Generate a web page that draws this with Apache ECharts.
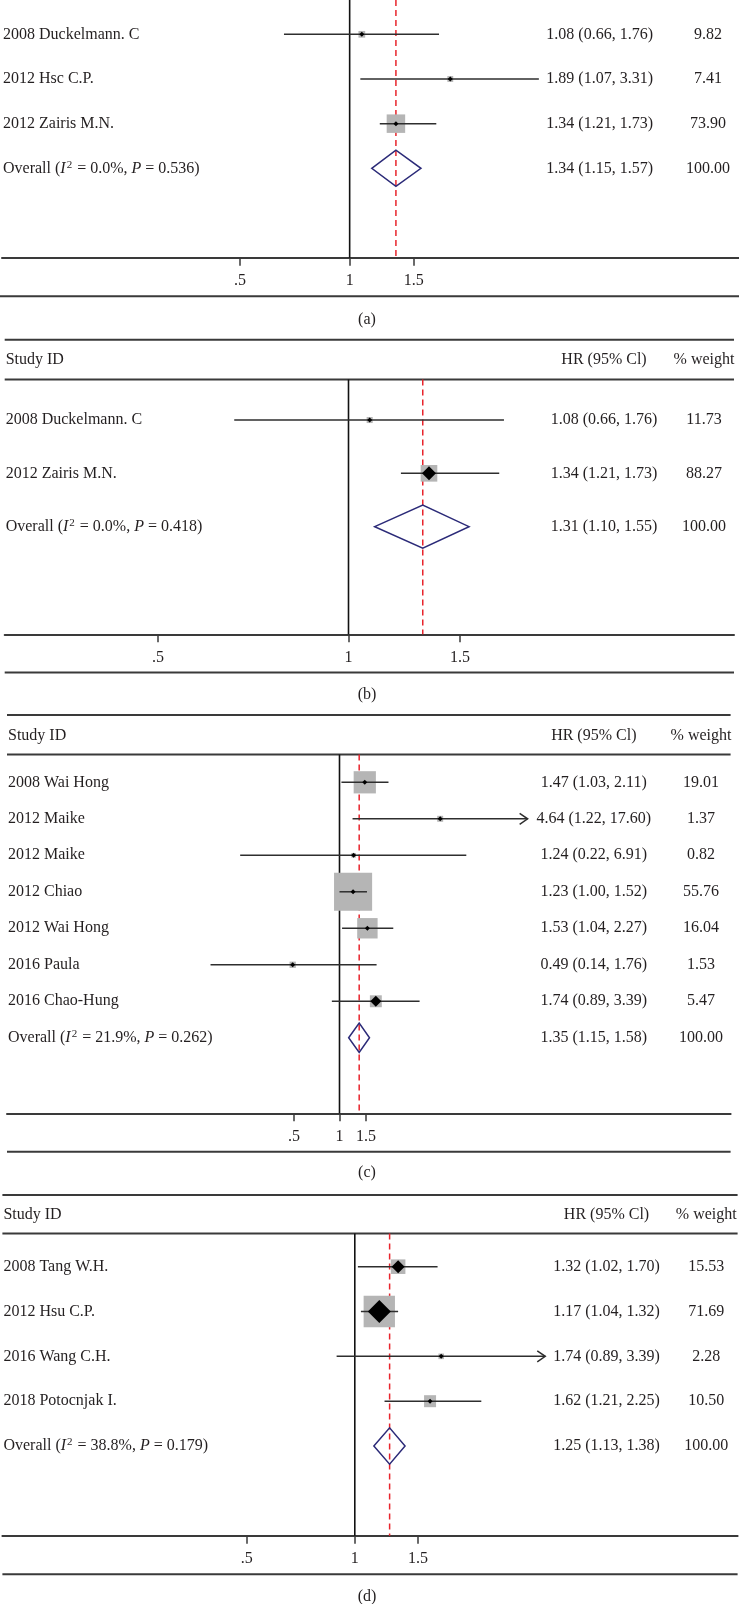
<!DOCTYPE html>
<html>
<head>
<meta charset="utf-8">
<script src="https://cdn.jsdelivr.net/npm/echarts@6/dist/echarts.min.js"></script>
<style>
html,body{margin:0;padding:0;background:#fff;}
#chart{width:739px;height:1604px;}
</style>
</head>
<body>
<div id="chart"></div>
<script>
// ---------------- DATA ----------------
// Panel (a)
const studiesA = ['2008 Duckelmann. C', '2012 Hsc C.P.', '2012 Zairis M.N.'];
const hrA = [1.08, 1.89, 1.34];
const lowA = [0.66, 1.07, 1.21];
const highA = [1.76, 3.31, 1.73];
const weightA = [9.82, 7.41, 73.90];
const overallA = [1.34, 1.15, 1.57];
const hetA = ['0.0%', '0.536'];

// Panel (b)
const studiesB = ['2008 Duckelmann. C', '2012 Zairis M.N.'];
const hrB = [1.08, 1.34];
const lowB = [0.66, 1.21];
const highB = [1.76, 1.73];
const weightB = [11.73, 88.27];
const overallB = [1.31, 1.10, 1.55];
const hetB = ['0.0%', '0.418'];

// Panel (c)
const studiesC = ['2008 Wai Hong', '2012 Maike', '2012 Maike', '2012 Chiao', '2012 Wai Hong', '2016 Paula', '2016 Chao-Hung'];
const hrC = [1.47, 4.64, 1.24, 1.23, 1.53, 0.49, 1.74];
const lowC = [1.03, 1.22, 0.22, 1.00, 1.04, 0.14, 0.89];
const highC = [2.11, 17.60, 6.91, 1.52, 2.27, 1.76, 3.39];
const weightC = [19.01, 1.37, 0.82, 55.76, 16.04, 1.53, 5.47];
const overallC = [1.35, 1.15, 1.58];
const hetC = ['21.9%', '0.262'];

// Panel (d)
const studiesD = ['2008 Tang W.H.', '2012 Hsu C.P.', '2016 Wang C.H.', '2018 Potocnjak I.'];
const hrD = [1.32, 1.17, 1.74, 1.62];
const lowD = [1.02, 1.04, 0.89, 1.21];
const highD = [1.70, 1.32, 3.39, 2.25];
const weightD = [15.53, 71.69, 2.28, 10.50];
const overallD = [1.25, 1.13, 1.38];
const hetD = ['38.8%', '0.179'];

const tickValues = [0.5, 1, 1.5];
const tickLabels = ['.5', '1', '1.5'];
const captions = ['(a)', '(b)', '(c)', '(d)'];
const headerTexts = ['Study ID', 'HR (95% Cl)', '% weight'];
const overallWeight = 100;

// ---------------- LAYOUT / STYLE ----------------
const FONT = '"Liberation Serif","Times New Roman",serif';
const TXT = '#231f20';
const RULE = '#3a3a3a';

const panels = [
  {names: studiesA, hr: hrA, lo: lowA, hi: highA, w: weightA, ov: overallA, het: hetA},
  {names: studiesB, hr: hrB, lo: lowB, hi: highB, w: weightB, ov: overallB, het: hetB},
  {names: studiesC, hr: hrC, lo: lowC, hi: highC, w: weightC, ov: overallC, het: hetC},
  {names: studiesD, hr: hrD, lo: lowD, hi: highD, w: weightD, ov: overallD, het: hetD}
];

const layouts = [
  {left:0, right:739, top:0, axisY:257.7, x1:348.6, s:158.5, yMin:-0.768, yMax:5.0, k:2.15, hrC:139.3, wC:31, topLine:null, headerY:null, bottomY:296.3, captionY:319.3, big:{}, arrows:[]},
  {left:4.7, right:734, top:379.4, axisY:634.3, x1:348.5, s:275, yMin:-0.762, yMax:4.02, k:1.77, hrC:130, wC:30, topLine:339.8, headerY:360, bottomY:672.5, captionY:695, big:{1:14}, arrows:[]},
  {left:7, right:730.6, top:754.5, axisY:1113.3, x1:339.5, s:65.6, yMin:-0.762, yMax:9.07, k:5.1, hrC:136.8, wC:29.6, topLine:715, headerY:736, bottomY:1151.7, captionY:1173, big:{6:11}, arrows:[1]},
  {left:2.4, right:737.6, top:1233.5, axisY:1535.7, x1:354.8, s:156, yMin:-0.74, yMax:6.0, k:3.7, hrC:131.1, wC:31.3, topLine:1195, headerY:1215, bottomY:1574.3, captionY:1596.5, big:{0:13, 1:23}, arrows:[2]}
];

function fmtHR(e, l, h) { return e.toFixed(2) + ' (' + l.toFixed(2) + ', ' + h.toFixed(2) + ')'; }

const grids = [], xAxes = [], yAxes = [], series = [], graphics = [];

panels.forEach((P, pi) => {
  const L = layouts[pi];
  const n = P.names.length;
  const rowVals = [];
  for (let i = 0; i <= n; i++) rowVals.push(i);

  grids.push({left: L.left, top: L.top, width: L.right - L.left, height: L.axisY - L.top, containLabel: false});

  xAxes.push({
    type: 'value', gridIndex: pi,
    min: (L.left - L.x1) / L.s, max: (L.right - L.x1) / L.s,
    axisLine: {show: true, onZero: false, lineStyle: {color: RULE, width: 2}},
    axisTick: {show: true, length: 8, customValues: tickValues.map(Math.log), lineStyle: {color: RULE, width: 1.5}},
    axisLabel: {
      show: true, margin: 15, customValues: tickValues.map(Math.log),
      fontFamily: FONT, fontSize: 16, color: TXT,
      formatter: (v) => {
        const r = Math.exp(v);
        let best = 0, bd = Infinity;
        tickValues.forEach((t, ti) => { const d = Math.abs(t - r); if (d < bd) { bd = d; best = ti; } });
        return tickLabels[best];
      }
    },
    splitLine: {show: false}
  });

  const overallRich = '{t|Overall (}{i|I}{s|2}{t| = ' + P.het[0] + ', }{i|P}{t| = ' + P.het[1] + ')}';
  yAxes.push({
    type: 'value', gridIndex: pi, position: 'left', inverse: true, min: L.yMin, max: L.yMax,
    axisLine: {show: false}, axisTick: {show: false}, splitLine: {show: false},
    axisLabel: {
      show: true, inside: true, margin: 1, customValues: rowVals,
      fontFamily: FONT, fontSize: 16, color: TXT,
      formatter: (v) => {
        const i = Math.round(v);
        if (i < n) return '{t|' + P.names[i] + '}';
        return overallRich;
      },
      rich: {
        t: {fontFamily: FONT, fontSize: 16, color: TXT, lineHeight: 18},
        i: {fontFamily: FONT, fontSize: 16, color: TXT, fontStyle: 'italic', lineHeight: 18},
        s: {fontFamily: FONT, fontSize: 11, color: TXT, lineHeight: 11, verticalAlign: 'top', padding: [0, 1, 0, 1]}
      }
    }
  });
  const hrW = 2 * (L.hrC - 2 * L.wC);
  yAxes.push({
    type: 'value', gridIndex: pi, position: 'right', inverse: true, min: L.yMin, max: L.yMax,
    axisLine: {show: false}, axisTick: {show: false}, splitLine: {show: false},
    axisLabel: {
      show: true, inside: true, margin: 0, customValues: rowVals,
      fontFamily: FONT, fontSize: 16, color: TXT,
      formatter: (v) => {
        const i = Math.round(v);
        let h, w;
        if (i < n) { h = fmtHR(P.hr[i], P.lo[i], P.hi[i]); w = P.w[i].toFixed(2); }
        else { h = fmtHR(P.ov[0], P.ov[1], P.ov[2]); w = overallWeight.toFixed(2); }
        return '{h|' + h + '}{w|' + w + '}';
      },
      rich: {
        h: {fontFamily: FONT, fontSize: 16, color: TXT, width: hrW, align: 'center'},
        w: {fontFamily: FONT, fontSize: 16, color: TXT, width: 2 * L.wC, align: 'center'}
      }
    }
  });

  // reference lines: null effect (HR = 1) and pooled estimate
  series.push({
    type: 'custom', xAxisIndex: pi, yAxisIndex: 2 * pi, silent: true, z: 1,
    data: [[Math.log(1), 0], [Math.log(P.ov[0]), 0]],
    encode: {x: 0, y: 1},
    renderItem: (params, api) => {
      const x = api.value(0);
      const a = api.coord([x, L.yMin]);
      const b = api.coord([x, L.yMax]);
      const isNull = params.dataIndex === 0;
      return {
        type: 'line',
        shape: {x1: a[0], y1: a[1], x2: b[0], y2: b[1]},
        style: isNull ? {stroke: '#111', lineWidth: 1.6} : {stroke: '#e8242c', lineWidth: 1.5, lineDash: [6, 4]}
      };
    }
  });

  const items = [];
  for (let i = 0; i < n; i++) items.push([Math.log(P.hr[i]), Math.log(P.lo[i]), Math.log(P.hi[i]), P.w[i], i]);
  items.push([Math.log(P.ov[0]), Math.log(P.ov[1]), Math.log(P.ov[2]), overallWeight, n]);

  series.push({
    type: 'custom', xAxisIndex: pi, yAxisIndex: 2 * pi, silent: true, z: 2,
    data: items,
    encode: {x: [0, 1, 2], y: 4},
    renderItem: (params, api) => {
      const e = api.value(0), lo = api.value(1), hi = api.value(2), w = api.value(3), row = api.value(4);
      if (params.dataIndex === n) {
        const hh = 0.405;
        const pts = [api.coord([lo, row]), api.coord([e, row - hh]), api.coord([hi, row]), api.coord([e, row + hh])];
        return {type: 'polygon', shape: {points: pts}, style: {fill: 'none', stroke: '#2b2a78', lineWidth: 1.5}};
      }
      const pe = api.coord([e, row]);
      const pl = api.coord([lo, row]);
      const ph = api.coord([hi, row]);
      const side = L.k * Math.sqrt(w);
      const m = L.big[params.dataIndex] || 5;
      const children = [
        {type: 'rect', shape: {x: pe[0] - side / 2, y: pe[1] - side / 2, width: side, height: side}, style: {fill: '#b5b5b5'}},
        {type: 'line', shape: {x1: pl[0], y1: pl[1], x2: ph[0], y2: ph[1]}, style: {stroke: '#2e2e2e', lineWidth: 1.5}},
        {type: 'polygon', shape: {points: [[pe[0], pe[1] - m / 2], [pe[0] + m / 2, pe[1]], [pe[0], pe[1] + m / 2], [pe[0] - m / 2, pe[1]]]}, style: {fill: '#000'}}
      ];
      if (L.arrows.indexOf(params.dataIndex) >= 0) {
        children.push({type: 'polyline', shape: {points: [[ph[0] - 8, ph[1] - 5.5], [ph[0], ph[1]], [ph[0] - 8, ph[1] + 5.5]]}, style: {stroke: '#2e2e2e', lineWidth: 1.5, fill: 'none'}});
      }
      return {type: 'group', children: children};
    }
  });

  // decorations
  const font16 = '16px ' + FONT;
  if (L.topLine !== null) {
    graphics.push({type: 'line', silent: true, shape: {x1: L.left, y1: L.topLine, x2: L.right, y2: L.topLine}, style: {stroke: RULE, lineWidth: 2}});
    graphics.push({type: 'line', silent: true, shape: {x1: L.left, y1: L.top, x2: L.right, y2: L.top}, style: {stroke: RULE, lineWidth: 2}});
    graphics.push({type: 'text', silent: true, x: L.left + 1, y: L.headerY, style: {text: headerTexts[0], font: font16, fill: TXT, textAlign: 'left', textVerticalAlign: 'middle'}});
    graphics.push({type: 'text', silent: true, x: L.right - L.hrC, y: L.headerY, style: {text: headerTexts[1], font: font16, fill: TXT, textAlign: 'center', textVerticalAlign: 'middle'}});
    graphics.push({type: 'text', silent: true, x: L.right - L.wC, y: L.headerY, style: {text: headerTexts[2], font: font16, fill: TXT, textAlign: 'center', textVerticalAlign: 'middle'}});
  }
  graphics.push({type: 'line', silent: true, shape: {x1: L.left, y1: L.bottomY, x2: L.right, y2: L.bottomY}, style: {stroke: RULE, lineWidth: 2}});
  graphics.push({type: 'text', silent: true, x: 367, y: L.captionY, style: {text: captions[pi], font: font16, fill: TXT, textAlign: 'center', textVerticalAlign: 'middle'}});
});

const chart = echarts.init(document.getElementById('chart'), null, {renderer: 'canvas'});
chart.setOption({
  animation: false,
  backgroundColor: '#ffffff',
  grid: grids,
  xAxis: xAxes,
  yAxis: yAxes,
  series: series,
  graphic: {elements: graphics}
});
</script>
</body>
</html>
